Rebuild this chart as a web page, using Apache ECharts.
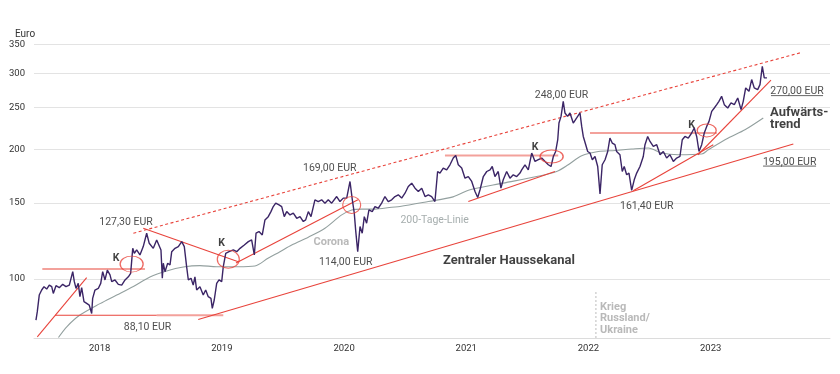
<!DOCTYPE html>
<html><head><meta charset="utf-8">
<script src="https://cdn.jsdelivr.net/npm/echarts@6/dist/echarts.min.js"></script>
<style>html,body{margin:0;padding:0;background:#fff}#c{width:840px;height:374px}</style>
</head><body><div id="c"></div>
<script>
// ---------- data (decimal years, EUR) ----------
const xTicks = [2018, 2019, 2020, 2021, 2022, 2023];
const yTicks = [100, 150, 200, 250, 300, 350];

const priceYears = [2017.566,2017.577,2017.593,2017.613,2017.632,2017.654,2017.675,2017.695,2017.708,2017.730,
2017.757,2017.785,2017.812,2017.839,2017.867,2017.880,2017.894,2017.912,2017.926,2017.940,
2017.959,2017.981,2018.002,2018.022,2018.030,2018.049,2018.076,2018.096,2018.112,2018.131,
2018.150,2018.172,2018.186,2018.213,2018.240,2018.268,2018.295,2018.322,2018.341,2018.358,
2018.371,2018.390,2018.417,2018.444,2018.472,2018.493,2018.526,2018.554,2018.567,2018.589,
2018.600,2018.608,2018.622,2018.644,2018.663,2018.677,2018.704,2018.731,2018.759,2018.780,
2018.799,2018.813,2018.835,2018.853,2018.867,2018.881,2018.908,2018.935,2018.955,2018.976,
2018.998,2019.009,2019.025,2019.045,2019.064,2019.086,2019.099,2019.119,2019.146,2019.181,
2019.209,2019.236,2019.271,2019.304,2019.331,2019.353,2019.367,2019.391,2019.418,2019.440,
2019.467,2019.489,2019.508,2019.528,2019.555,2019.577,2019.598,2019.618,2019.645,2019.672,
2019.700,2019.727,2019.754,2019.773,2019.795,2019.817,2019.849,2019.876,2019.904,2019.931,
2019.958,2019.986,2020.027,2020.054,2020.081,2020.109,2020.136,2020.155,2020.171,2020.182,
2020.199,2020.218,2020.236,2020.253,2020.272,2020.291,2020.318,2020.340,2020.367,2020.395,
2020.422,2020.449,2020.477,2020.504,2020.531,2020.559,2020.586,2020.613,2020.641,2020.668,
2020.695,2020.723,2020.750,2020.777,2020.804,2020.831,2020.853,2020.872,2020.899,2020.927,
2020.954,2020.981,2021.001,2021.022,2021.050,2021.077,2021.104,2021.132,2021.159,2021.181,
2021.200,2021.227,2021.255,2021.282,2021.300,2021.322,2021.349,2021.371,2021.390,2021.418,
2021.445,2021.472,2021.500,2021.527,2021.541,2021.568,2021.595,2021.623,2021.650,2021.677,
2021.705,2021.732,2021.759,2021.781,2021.800,2021.819,2021.836,2021.846,2021.863,2021.881,
2021.895,2021.917,2021.936,2021.963,2021.991,2022.018,2022.032,2022.045,2022.065,2022.081,
2022.100,2022.119,2022.141,2022.163,2022.182,2022.200,2022.223,2022.245,2022.263,2022.282,
2022.304,2022.318,2022.345,2022.364,2022.380,2022.400,2022.419,2022.441,2022.462,2022.482,
2022.509,2022.536,2022.550,2022.572,2022.591,2022.618,2022.646,2022.673,2022.700,2022.727,
2022.754,2022.782,2022.809,2022.836,2022.855,2022.877,2022.904,2022.932,2022.953,2022.973,
2022.992,2023.014,2023.035,2023.055,2023.074,2023.096,2023.117,2023.137,2023.155,2023.177,
2023.199,2023.227,2023.254,2023.281,2023.309,2023.336,2023.354,2023.374,2023.401,2023.423,
2023.444,2023.472,2023.491,2023.510,2023.526,2023.548];
const priceValues = [80.3,84.0,91.8,94.3,96.0,94.8,96.8,96.0,92.6,96.5,
95.5,97.2,96.0,96.8,104.0,98.6,95.1,97.7,91.0,95.5,
88.6,87.8,87.0,83.2,90.2,94.3,95.1,97.7,104.0,99.5,
104.9,102.2,98.6,99.5,97.2,96.8,99.5,101.2,103.1,117.8,
114.7,116.8,113.7,118.9,127.7,121.0,117.8,123.2,122.1,116.8,
100.4,108.8,104.0,108.8,107.8,115.7,117.8,118.9,122.1,118.9,
106.8,99.5,100.4,96.8,101.2,94.3,96.0,91.8,94.3,91.0,
90.2,85.5,89.4,97.7,99.5,98.6,106.8,114.7,115.7,116.8,
115.7,117.8,119.9,122.1,123.2,113.7,127.7,128.8,126.5,137.1,
139.5,143.3,147.2,149.9,148.5,147.2,139.5,143.3,140.8,142.1,
138.3,139.5,135.9,137.1,143.3,139.5,152.6,151.2,152.6,149.9,
152.6,149.9,155.3,151.2,154.0,154.0,168.3,152.6,142.1,130.0,
115.7,132.3,127.7,139.5,134.7,144.6,143.3,147.2,145.9,149.9,
155.3,151.2,152.6,155.3,156.7,154.0,158.1,163.8,166.8,162.4,
159.5,162.4,155.3,156.7,155.3,151.2,177.5,176.0,180.8,179.1,
184.0,190.7,193.4,184.0,180.8,171.3,172.8,168.3,159.5,154.5,
161.0,172.8,177.5,179.1,182.3,172.8,177.5,162.4,169.8,177.5,
171.3,174.4,172.8,176.0,179.1,184.0,179.1,195.9,187.3,189.0,
190.7,187.3,184.0,182.3,192.3,197.5,210.3,229.9,238.2,258.1,
242.6,238.2,242.6,229.9,236.2,242.6,225.8,214.0,204.8,197.5,
195.9,189.0,192.3,182.3,157.5,184.0,189.0,197.5,212.2,206.6,
204.8,197.5,194.1,177.5,182.3,174.4,176.0,160.5,169.8,176.0,
182.3,192.3,204.8,214.0,208.4,202.9,204.8,194.1,197.5,190.7,
194.1,187.3,190.7,192.3,210.3,214.0,212.2,218.0,223.9,214.0,
197.5,204.8,218.0,225.8,231.9,244.7,249.1,253.6,258.1,265.1,
253.6,249.1,255.9,253.6,262.8,246.9,258.1,277.3,272.3,289.9,
277.3,274.8,282.2,311.2,292.5,292.5];

const ma200Years = [2017.750,2017.820,2017.926,2018.090,2018.227,2018.363,2018.499,2018.636,2018.772,2018.908,
2019.045,2019.219,2019.358,2019.465,2019.563,2019.659,2019.795,2019.931,2020.068,2020.150,
2020.232,2020.340,2020.477,2020.545,2020.777,2020.979,2021.118,2021.388,2021.664,2021.827,
2021.922,2022.032,2022.168,2022.305,2022.441,2022.577,2022.687,2022.822,2023.014,2023.068,
2023.232,2023.368,2023.518];
const ma200Values = [73.2,77.6,82.5,87.7,91.8,96.1,101.1,104.4,106.6,107.4,
106.8,106.8,107.2,111.7,115.7,119.9,125.0,131.1,140.8,144.6,
145.2,145.2,146.7,147.2,151.2,155.0,161.0,166.8,172.8,177.5,
184.0,193.1,197.5,198.6,200.1,201.2,195.9,194.1,194.8,199.3,
212.2,221.8,236.2];

// trend lines [year, EUR]
const resistance2018 = [[2017.618,105.5],[2018.458,105.5]];
const startTrend2017 = [[2017.577,73.4],[2017.981,100.7]];
const support88a = [[2017.722,82.4],[2018.554,82.4]];
const support88b = [[2018.554,82.4],[2019.099,82.4]];
const downTrend2018 = [[2018.444,131.1],[2019.222,109.7]];
const upTrend2019 = [[2019.203,108.9],[2020.201,152.6]];
const upperChannel = [[2018.363,127.7],[2023.818,334.3]];
const lowerChannel = [[2018.894,80.6],[2023.764,205.5]];
const resistance2021 = [[2020.913,193.4],[2021.840,193.4]];
const support2021 = [[2021.104,151.2],[2021.813,177.5]];
const resistance2022 = [[2022.100,218.0],[2023.137,218.0]];
const support2022 = [[2022.454,160.1],[2023.109,204.8]];
const upTrend2023 = [[2022.984,194.1],[2023.581,289.1]];
const underline270 = [[2023.581,266.1],[2024.007,266.1]];
const underline195 = [[2023.516,182.7],[2023.950,182.7]];
const ukraineMarker = [[2022.148,93.3],[2022.148,73]];

// breakout circles
const circleYears = [2018.349,2019.140,2020.150,2021.786,2023.055];
const circleValues = [108.3,111.1,148.5,192.3,221.0];

// annotations
const annoTexts = ['127,30 EUR','88,10 EUR','169,00 EUR','114,00 EUR','248,00 EUR','161,40 EUR','270,00 EUR','195,00 EUR',
  'Corona','200-Tage-Linie','Zentraler Haussekanal','Aufwärts-\ntrend','Krieg\nRussland/\nUkraine','K','K','K','K'];
const annoYears = [2018.303,2018.479,2019.970,2020.101,2021.867,2022.564,2023.794,2023.734,
  2019.983,2020.829,2021.437,2023.573,2022.182,2018.221,2019.086,2021.650,2022.932];
const annoValues = [136.6,77.9,181.5,110.4,268.9,148.8,273.7,188.0,
  122.5,137.5,111.0,235.3,81.0,112.3,121.7,204.0,229.1];

// ---------- styles ----------
const RED = '#e8433b', LIGHTRED = '#f3a19b', PURPLE = '#3b2566', MAGRAY = '#93a09f';
const circleSizes = [[23,16],[22,18],[18,17],[23,13],[19,13]];
const annoKinds = ['v','v','v','v','v','v','v','v','corona','ma','channel','trend','war','k','k','k','k'];
const kindStyle = {
  v: {fontSize:10.5, color:'#222', position:'inside', offset:[0,1.5]},
  corona: {fontSize:11, fontWeight:'bold', color:'#a8a8a8', position:'inside', offset:[0,1.5]},
  ma: {fontSize:10.5, color:'#8f9999', position:'inside', offset:[0,1.5]},
  channel: {fontSize:13, fontWeight:'bold', color:'#111', position:'inside', offset:[0,1.5]},
  trend: {fontSize:13, fontWeight:'bold', color:'#111', position:'right', distance:0, align:'left', lineHeight:12},
  war: {fontSize:11, fontWeight:'bold', color:'#a8a8a8', position:'right', distance:0, align:'left', lineHeight:11.7},
  k: {fontSize:10.5, fontWeight:'bold', color:'#111', position:'inside', offset:[0,1.5]}
};
const pair = (xs, ys) => xs.map((x, i) => [x, ys[i]]);
function seg(data, color, width, type, z) {
  return {type:'line', data, symbol:'none', silent:true, z: z || 3,
    lineStyle:{color, width, type: type || 'solid'}};
}

const chart = echarts.init(document.getElementById('c'));
chart.setOption({
  animation:false,
  textStyle:{fontFamily:'Roboto'},
  title:{text:'Euro', left:10, top:24, textStyle:{fontSize:10, fontWeight:'normal', color:'#333', fontFamily:'Roboto'}},
  grid:{left:34, right:10, top:44, bottom:36},
  xAxis:{type:'value', min:2017.55, max:2024.064,
    axisLine:{show:true, lineStyle:{color:'#dcdcdc'}},
    axisTick:{show:false, customValues:xTicks},
    splitLine:{show:false},
    axisLabel:{customValues:xTicks, formatter:v => String(Math.round(v)), align:'left', margin:6, fontSize:9.5, color:'#333'}},
  yAxis:{type:'log', logBase:10, min:73, max:350.5,
    axisLine:{show:false}, axisTick:{show:false, customValues:yTicks},
    splitLine:{show:true, lineStyle:{color:'#e3e3e3', width:1}},
    axisLabel:{customValues:yTicks, formatter:v => String(Math.round(v)), margin:9, fontSize:9.5, color:'#333'}},
  series:[
    {type:'line', data:pair(ma200Years, ma200Values), symbol:'none', smooth:0.3, silent:true, z:2,
     lineStyle:{color:MAGRAY, width:1.1}},
    seg(ukraineMarker, '#d2d2d2', 1.5, [2,2], 1),
    seg(resistance2018, LIGHTRED, 2),
    seg(resistance2021, LIGHTRED, 2),
    seg(resistance2022, LIGHTRED, 2),
    seg(support88b, LIGHTRED, 2),
    seg(support88a, RED, 1.1),
    seg(startTrend2017, RED, 1.1),
    seg(downTrend2018, RED, 1.1),
    seg(upTrend2019, RED, 1.1),
    seg(upperChannel, RED, 1.1, [3,2.5]),
    seg(lowerChannel, RED, 1.1),
    seg(support2021, RED, 1.1),
    seg(support2022, RED, 1.1),
    seg(upTrend2023, RED, 1.1),
    seg(underline270, '#666', 1),
    seg(underline195, '#666', 1),
    {type:'line', data:pair(priceYears, priceValues), symbol:'none', silent:true, z:5,
     lineStyle:{color:PURPLE, width:1.4}},
    {type:'scatter', silent:true, z:6,
     data: pair(circleYears, circleValues).map((v, i) => ({value:v, symbolSize:circleSizes[i]})),
     symbol:'circle', itemStyle:{color:'rgba(0,0,0,0)', borderColor:RED, borderWidth:1.1}},
    {type:'scatter', silent:true, z:7, symbolSize:0,
     data: pair(annoYears, annoValues).map((v, i) => {
       const s = kindStyle[annoKinds[i]];
       return {value:v, label:Object.assign({show:true, formatter:annoTexts[i], fontFamily:'Roboto'}, s)};
     })}
  ]
});
</script></body></html>
